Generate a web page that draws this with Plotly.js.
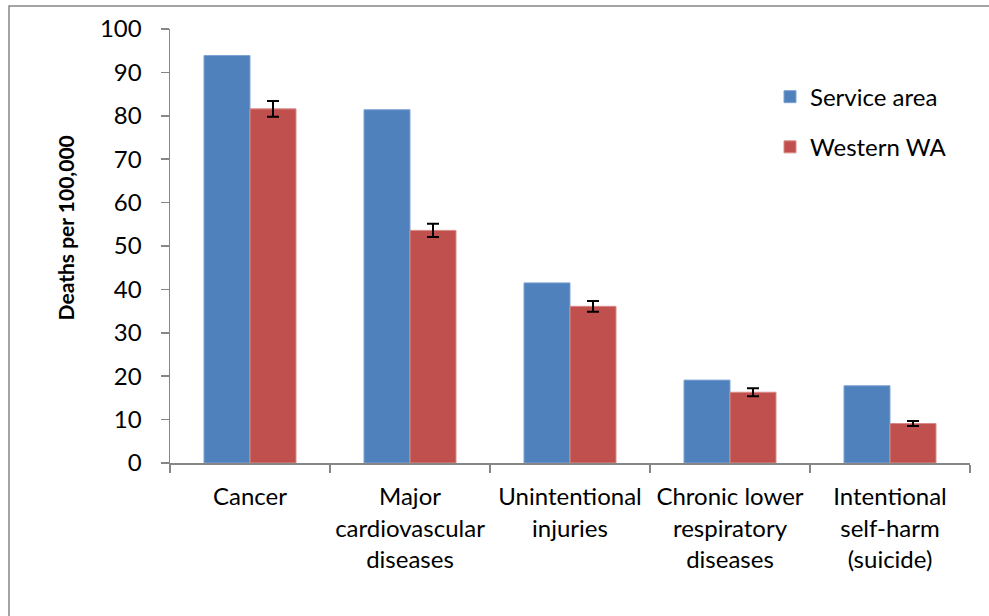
<!DOCTYPE html>
<html>
<head>
<meta charset="utf-8">
<script src="https://cdn.plot.ly/plotly-3.0.1.min.js"></script>
<style>
  html, body { margin: 0; padding: 0; background: #ffffff; }
  #plot { width: 989px; height: 616px; }
</style>
</head>
<body>
<div id="plot"></div>
<script>
  // Todesursachen, Werte aus dem Bild geschätzt
  var categories = [
    "Cancer",
    "Major<br>cardiovascular<br>diseases",
    "Unintentional<br>injuries",
    "Chronic lower<br>respiratory<br>diseases",
    "Intentional<br>self-harm<br>(suicide)"
  ];
  var serviceArea = [93.9, 81.4, 41.5, 19.1, 17.8];
  var westernWA = [81.6, 53.6, 36.1, 16.3, 9.1];
  var westernErr = [1.8, 1.5, 1.25, 0.9, 0.6];
  var yTicks = [0, 10, 20, 30, 40, 50, 60, 70, 80, 90, 100];

  var FONT = "Lato, 'Open Sans', sans-serif";
  var AXIS = "#868686";

  var traces = [
    {
      type: "bar",
      name: "Service area",
      x: categories,
      y: serviceArea,
      legendgroup: "a",
      marker: { color: "#4f81bd", line: { color: "#7ea3d4", width: 1 } },
      hoverinfo: "y"
    },
    {
      type: "bar",
      name: "Western WA",
      x: categories,
      y: westernWA,
      legendgroup: "b",
      marker: { color: "#c0504d", line: { color: "#d98a88", width: 1 } },
      error_y: {
        type: "data",
        array: westernErr,
        visible: true,
        color: "#000000",
        thickness: 2,
        width: 6
      },
      hoverinfo: "y"
    }
  ];

  var layout = {
    width: 989,
    height: 616,
    margin: { l: 170, r: 19, t: 29, b: 153 },
    paper_bgcolor: "#ffffff",
    plot_bgcolor: "#ffffff",
    font: { family: FONT, size: 24, color: "#000000" },
    barmode: "group",
    bargap: 0.425,
    bargroupgap: 0,
    showlegend: true,
    legend: {
      x: 0.75,
      xanchor: "left",
      y: 0.895,
      yanchor: "top",
      tracegroupgap: 16,
      bgcolor: "rgba(0,0,0,0)",
      font: { family: FONT, size: 24, color: "#000000" }
    },
    xaxis: {
      type: "category",
      tickson: "boundaries",
      ticks: "outside",
      ticklen: 8,
      tickwidth: 1.5,
      tickcolor: AXIS,
      showline: true,
      linecolor: AXIS,
      linewidth: 1.5,
      showgrid: false,
      zeroline: false,
      tickangle: 0,
      ticklabelstandoff: 12,
      tickfont: { family: FONT, size: 24, color: "#000000" }
    },
    yaxis: {
      range: [0, 100],
      tickmode: "array",
      tickvals: yTicks,
      ticktext: yTicks.map(String),
      ticks: "outside",
      ticklen: 8,
      tickwidth: 1.5,
      tickcolor: AXIS,
      showline: true,
      linecolor: AXIS,
      linewidth: 1.5,
      showgrid: false,
      zeroline: false,
      ticklabelstandoff: 14,
      tickfont: { family: FONT, size: 24, color: "#000000" }
    },
    annotations: [
      {
        xref: "paper",
        yref: "paper",
        x: -0.131,
        y: 0.541,
        text: "<b>Deaths per 100,000</b>",
        textangle: -90,
        showarrow: false,
        xanchor: "center",
        yanchor: "middle",
        font: { family: FONT, size: 21, color: "#000000" }
      }
    ],
    shapes: [
      // Rahmen um das ganze Diagramm (rechts/unten ausserhalb des Bildes)
      {
        type: "rect",
        xref: "paper",
        yref: "paper",
        x0: -0.20125,
        x1: 1.1,
        y0: -0.5,
        y1: 1.053,
        line: { color: AXIS, width: 1.5 },
        fillcolor: "rgba(0,0,0,0)",
        layer: "below"
      }
    ]
  };

  Plotly.newPlot("plot", traces, layout, { displayModeBar: false, staticPlot: true });
</script>
</body>
</html>
